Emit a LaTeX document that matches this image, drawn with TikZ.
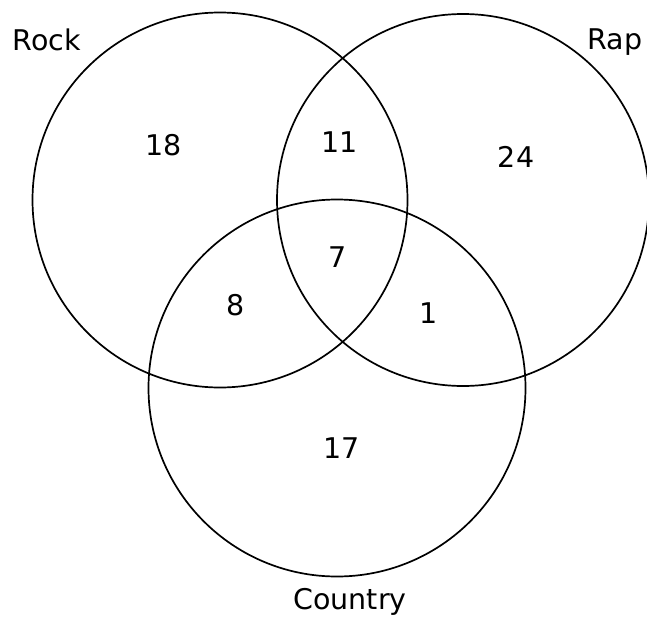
\documentclass[tikz,border=0pt]{standalone}
\usepackage{fontspec}
\setmainfont{DejaVu Sans}
\begin{document}
\begin{tikzpicture}[x=1pt,y=-1pt,
  setcircle/.style={draw=black,line width=1.7pt,circle,minimum size=#1,inner sep=0pt},
  lbl/.style={font=\fontsize{28.5}{30}\selectfont,anchor=base,inner sep=0pt},
  num/.style={font=\fontsize{28.5}{30}\selectfont,inner sep=0pt}]
\useasboundingbox (0,0) rectangle (647,616);
\node[setcircle=375pt] (rock) at (220,200) {};
\node[setcircle=372pt] (rap) at (463,200) {};
\node[setcircle=377pt] (country) at (337,388) {};
\node[lbl] (lrock) at (47,50) {Rock};
\node[lbl] (lrap) at (615,49) {Rap};
\node[lbl] (lcountry) at (350,609) {Country};
\node[num] (n18) at (164,145) {18};
\node[num] (n11) at (340,142) {11};
\node[num] (n24) at (516,157) {24};
\node[num] (n7) at (338,257) {7};
\node[num] (n8) at (236,305) {8};
\node[num] (n1) at (429,313) {1};
\node[num] (n17) at (342,448) {17};
\end{tikzpicture}
\end{document}
